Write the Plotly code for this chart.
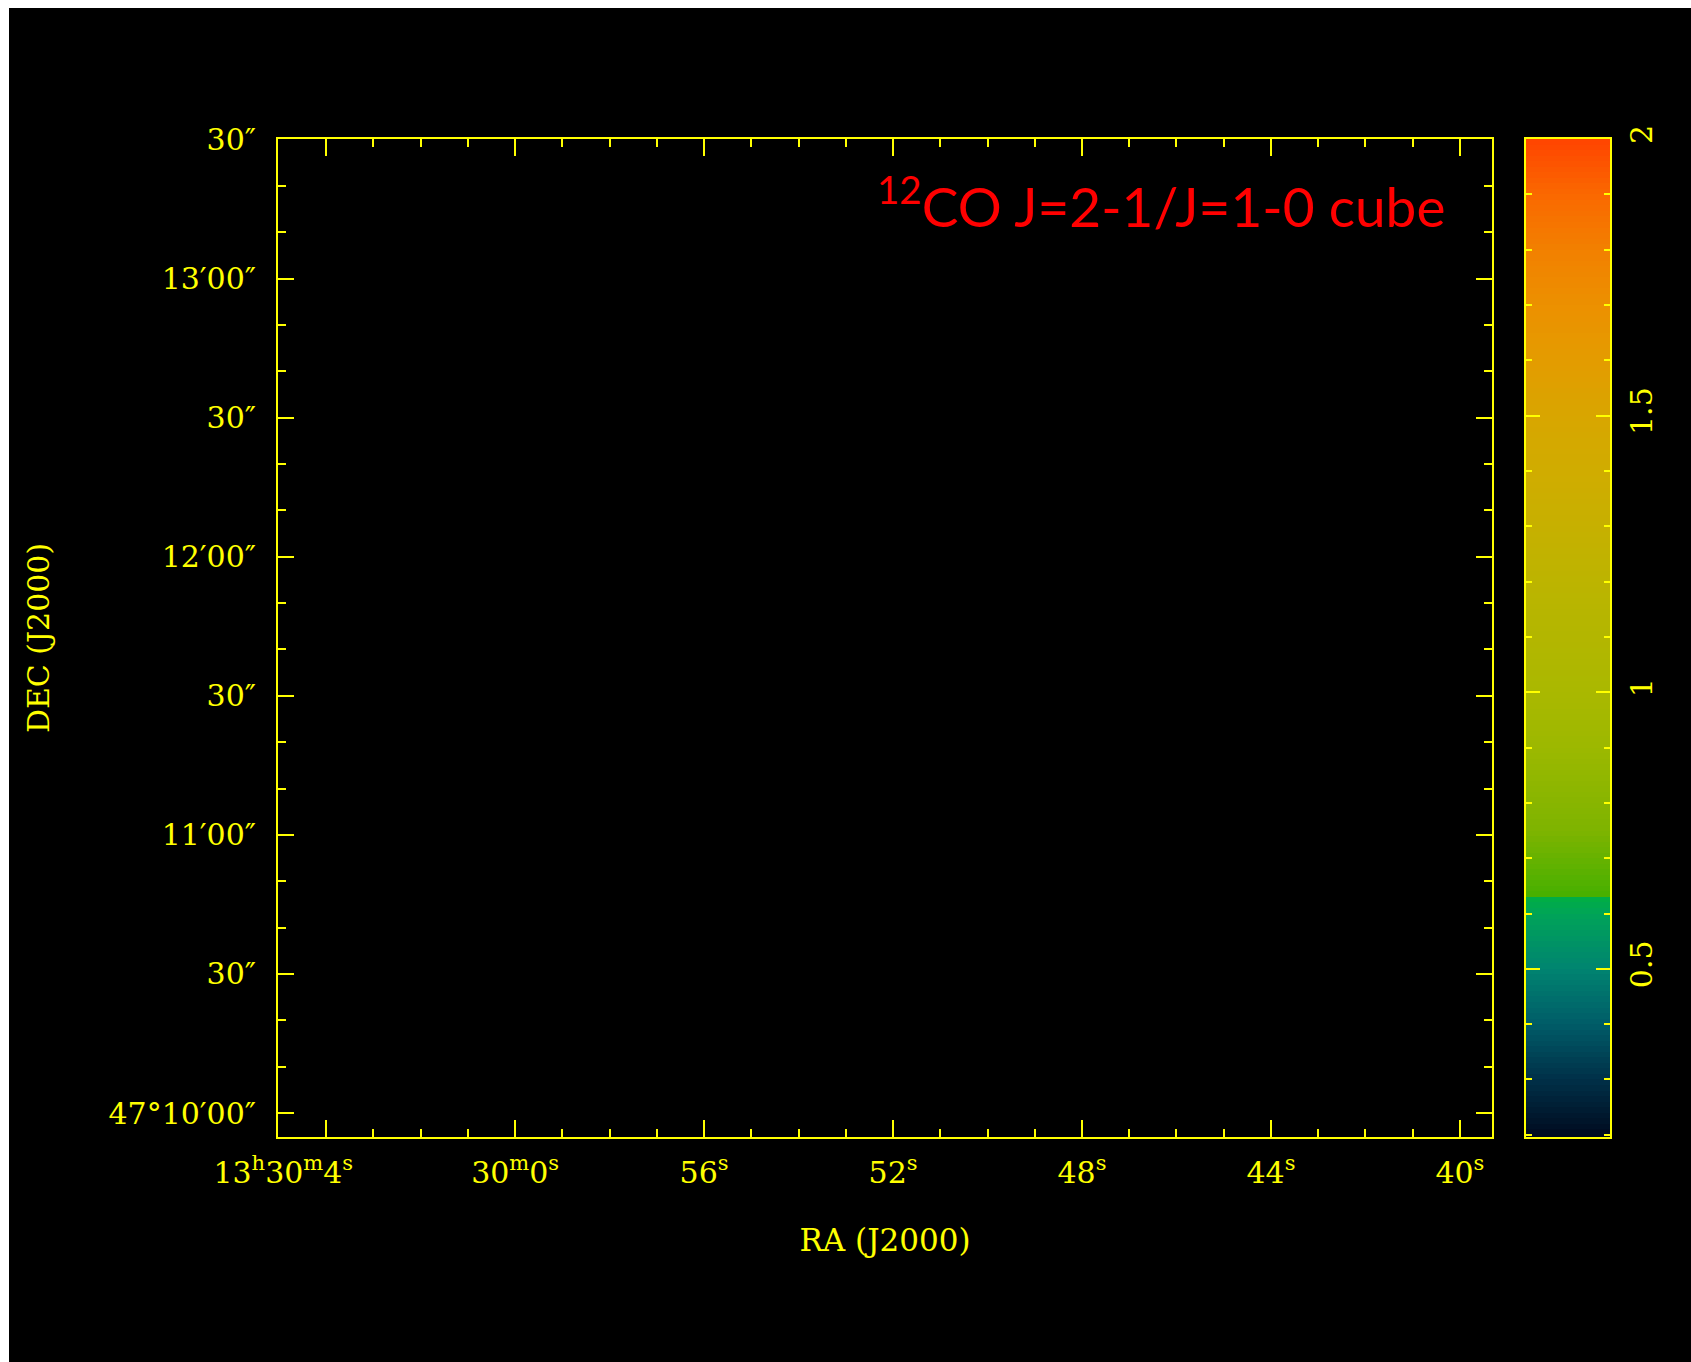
import numpy as np
import plotly.graph_objects as go

# ---------------- data ----------------
# RA axis: seconds of RA relative to 13h30m00s (decreasing to the right)
ra_range = [5.02, -20.68]
ra_tickvals = [4, 0, -4, -8, -12, -16, -20]
ra_ticktext = ["13<sup>h</sup>30<sup>m</sup>4<sup>s</sup>\u00a0\u00a0\u00a0\u00a0\u00a0\u00a0\u00a0\u00a0\u00a0",
               "30<sup>m</sup>0<sup>s</sup>", "56<sup>s</sup>", "52<sup>s</sup>",
               "48<sup>s</sup>", "44<sup>s</sup>", "40<sup>s</sup>"]

# DEC axis: arcsec relative to 47d10m00s
dec_range = [-5.17, 210.1]
dec_tickvals = [0, 30, 60, 90, 120, 150, 180, 210]
dec_ticktext = ["47°10′00″", "30″", "11′00″", "30″", "12′00″", "30″", "13′00″", "30″"]

# colour bar (ratio)
cbar_range = [0.196, 2.0]
cbar_tickvals = [0.5, 1, 1.5, 2]
cbar_ticktext = ["0.5", "1", "1.5", "2"]
cbar_stop_values = [0.196, 0.30, 0.40, 0.50, 0.60, 0.634, 0.634, 0.75, 0.90, 1.00,
                    1.20, 1.40, 1.50, 1.60, 1.70, 1.80, 1.90, 2.00]
cbar_stop_colors = ["#000a1e", "#003048", "#005c68", "#008470", "#00a458", "#00b040",
                    "#48b000", "#7eb400", "#9cb800", "#aab800", "#bcb400", "#d0ac00",
                    "#d8a600", "#e49c00", "#ec9000", "#f28000", "#fa6800", "#ff4400"]
cbar_step = 0.01

title_text = "<sup>12</sup>CO J=2-1/J=1-0 cube"

# ---------------- figure ----------------
YEL = "#ffff00"
FONT = "DejaVu Serif"

lo, hi = cbar_range
colorscale = [[(v - lo) / (hi - lo), c] for v, c in zip(cbar_stop_values, cbar_stop_colors)]
edges = np.concatenate([[lo], np.arange(0.20, hi + 1e-9, cbar_step)])
centers = (edges[:-1] + edges[1:]) / 2

fig = go.Figure()
fig.add_trace(go.Scatter(x=[], y=[], xaxis="x", yaxis="y", showlegend=False))
fig.add_trace(go.Heatmap(
    x=[0, 1], y=edges, z=centers.reshape(-1, 1),
    colorscale=colorscale, zmin=lo, zmax=hi, zsmooth=False,
    showscale=False, hoverinfo="skip", xaxis="x2", yaxis="y2"))

W, H = 1691, 1362
L, R, T, B = 278, 81, 139, 225
pw, ph = W - L - R, H - T - B

def px(x):
    return (x - L) / pw

def py(y):
    return (H - B - y) / ph

tick_common = dict(ticks="inside", tickwidth=2, tickcolor=YEL, showline=True,
                   linecolor=YEL, linewidth=2, mirror="ticks", showgrid=False,
                   zeroline=False, tickfont=dict(family=FONT, size=30, color=YEL))

fig.update_layout(
    width=W, height=H,
    margin=dict(l=L, r=R, t=T, b=B, pad=0),
    paper_bgcolor="black", plot_bgcolor="black",
    showlegend=False,
    xaxis=dict(domain=[0, px(1492)], range=ra_range, tickmode="array",
               tickvals=ra_tickvals, ticktext=ra_ticktext, ticklen=17,
               minor=dict(tickmode="linear", tick0=0, dtick=1, ticklen=8,
                          tickwidth=2, tickcolor=YEL, ticks="inside"),
               title=dict(text="RA (J2000)", font=dict(family=FONT, size=31, color=YEL),
                          standoff=40),
               ticklabelstandoff=8,
               **tick_common),
    yaxis=dict(domain=[0, 1], range=dec_range, tickmode="array",
               tickvals=dec_tickvals, ticktext=dec_ticktext, ticklen=16,
               minor=dict(tickmode="linear", tick0=0, dtick=10, ticklen=8,
                          tickwidth=2, tickcolor=YEL, ticks="inside"),
               title=dict(text="DEC (J2000)", font=dict(family=FONT, size=30, color=YEL),
                          standoff=50),
               ticklabelstandoff=14,
               **tick_common),
    xaxis2=dict(domain=[px(1526), 1], range=[0, 1], anchor="y2", showticklabels=False,
                ticks="", showline=True, linecolor=YEL, linewidth=2, mirror=True,
                showgrid=False, zeroline=False),
    yaxis2=dict(domain=[0, 1], range=cbar_range, anchor="x2", side="right",
                tickmode="array", tickvals=cbar_tickvals, ticktext=cbar_ticktext,
                ticklen=14, tickangle=-90,
                minor=dict(tickmode="linear", tick0=0, dtick=0.1, ticklen=6,
                           tickwidth=2, tickcolor=YEL, ticks="inside"),
                ticklabelstandoff=4,
                **tick_common),
    shapes=[
        dict(type="rect", xref="paper", yref="paper", x0=px(-5), x1=px(9),
             y0=py(H + 5), y1=py(-5), fillcolor="white", line=dict(width=0), layer="above"),
        dict(type="rect", xref="paper", yref="paper", x0=px(-5), x1=px(W + 5),
             y0=py(8), y1=py(-5), fillcolor="white", line=dict(width=0), layer="above"),
    ],
    annotations=[
        dict(text=title_text, xref="paper", yref="paper", x=px(1447), y=py(202),
             xanchor="right", yanchor="middle", showarrow=False,
             font=dict(family="Lato, Liberation Sans, sans-serif",
                       size=55, color="#ff0000")),
    ],
)

fig.write_html("out.html")
